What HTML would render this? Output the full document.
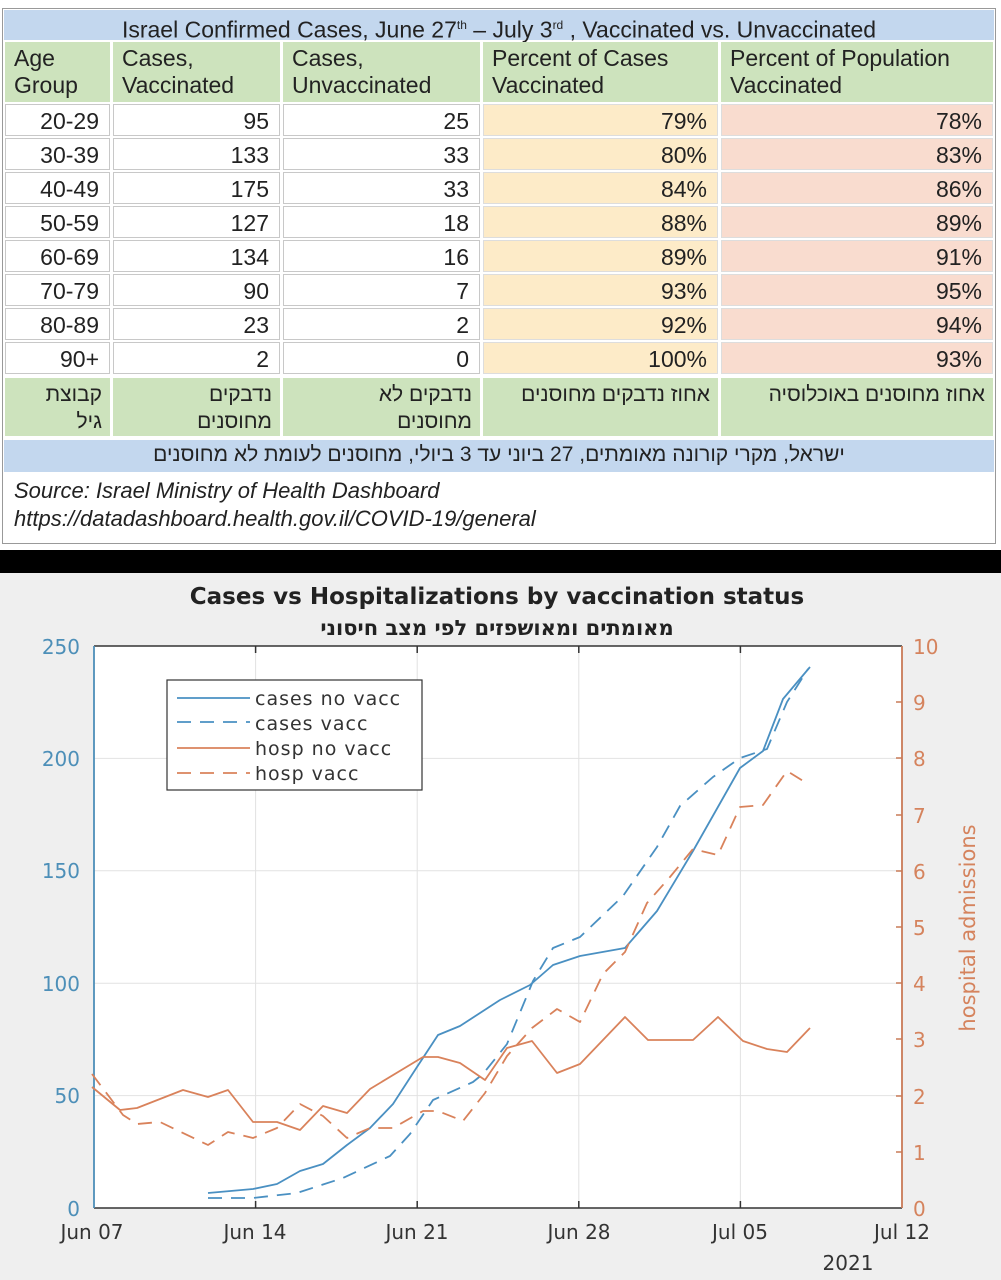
<!DOCTYPE html>
<html><head><meta charset="utf-8"><style>
body{margin:0;width:1001px;height:1280px;overflow:hidden;background:#fff;position:relative;font-family:"Liberation Sans Narrow","Liberation Sans",sans-serif;}
.c{position:absolute;box-sizing:border-box;font-size:23px;color:#222;line-height:27px;}
.w{background:#fff;border:1px solid #c8c8c8;}
.g{background:#cde3bd;}
.b{background:#c3d7ee;}
.y{background:#fdebc8;border:1px solid #ddd;}
.p{background:#f9dccf;border:1px solid #ddd;}
.r{text-align:right;padding-right:10px;padding-top:3px;}
.h{padding-left:9px;padding-top:3px;}
.he{direction:rtl;text-align:right;padding-right:8px;padding-top:3px;font-family:"Liberation Sans Narrow","Liberation Sans","Noto Sans CJK JP",sans-serif;font-size:21px;}
</style></head><body>
<div style="position:absolute;left:2px;top:8px;width:994px;height:536px;border:1px solid #999;box-sizing:border-box"></div>
<div class="c b" style="left:4px;top:10px;width:990px;height:30px;text-align:center;line-height:30px">Israel Confirmed Cases, June 27<sup style="font-size:12px">th</sup> – July 3<sup style="font-size:12px">rd</sup> , Vaccinated vs. Unvaccinated</div>
<div class="c g h" style="left:5px;top:42px;width:105px;height:60px">Age<br>Group</div>
<div class="c g h" style="left:113px;top:42px;width:167px;height:60px">Cases,<br>Vaccinated</div>
<div class="c g h" style="left:283px;top:42px;width:197px;height:60px">Cases,<br>Unvaccinated</div>
<div class="c g h" style="left:483px;top:42px;width:235px;height:60px">Percent of Cases<br>Vaccinated</div>
<div class="c g h" style="left:721px;top:42px;width:272px;height:60px">Percent of Population<br>Vaccinated</div>

<div id="rows"></div>
<script>
var d=[["20-29",95,25,"79%","78%"],["30-39",133,33,"80%","83%"],["40-49",175,33,"84%","86%"],["50-59",127,18,"88%","89%"],["60-69",134,16,"89%","91%"],["70-79",90,7,"93%","95%"],["80-89",23,2,"92%","94%"],["90+",2,0,"100%","93%"]];
var h="";
d.forEach(function(r,i){var t=104+i*34;
h+='<div class="c w r" style="left:5px;top:'+t+'px;width:105px;height:32px">'+r[0]+'</div>';
h+='<div class="c w r" style="left:113px;top:'+t+'px;width:167px;height:32px">'+r[1]+'</div>';
h+='<div class="c w r" style="left:283px;top:'+t+'px;width:197px;height:32px">'+r[2]+'</div>';
h+='<div class="c y r" style="left:483px;top:'+t+'px;width:235px;height:32px">'+r[3]+'</div>';
h+='<div class="c p r" style="left:721px;top:'+t+'px;width:272px;height:32px">'+r[4]+'</div>';});
document.getElementById("rows").innerHTML=h;
</script>
<div class="c g he" style="left:5px;top:378px;width:105px;height:58px">קבוצת<br>גיל</div>
<div class="c g he" style="left:113px;top:378px;width:167px;height:58px">נדבקים<br>מחוסנים</div>
<div class="c g he" style="left:283px;top:378px;width:197px;height:58px">נדבקים לא<br>מחוסנים</div>
<div class="c g he" style="left:483px;top:378px;width:235px;height:58px">אחוז נדבקים מחוסנים</div>
<div class="c g he" style="left:721px;top:378px;width:272px;height:58px">אחוז מחוסנים באוכלוסיה</div>
<div class="c b he" style="left:4px;top:440px;width:990px;height:32px;text-align:center;line-height:30px;padding:0">ישראל, מקרי קורונה מאומתים, 27 ביוני עד 3 ביולי, מחוסנים לעומת לא מחוסנים</div>
<div class="c" style="left:14px;top:477px;font-style:italic;font-size:22px;line-height:28px">Source: Israel Ministry of Health Dashboard<br>https://datadashboard.health.gov.il/COVID-19/general</div>
<div style="position:absolute;left:0;top:550px;width:1001px;height:23px;background:#000"></div>
<div style="position:absolute;left:0;top:573px;width:1001px;height:707px;background:#efefef"></div>

<svg width="1001" height="1280" style="position:absolute;left:0;top:0" font-family="'DejaVu Sans',sans-serif">
<text x="497" y="604" text-anchor="middle" font-size="23" font-weight="bold" fill="#222">Cases vs Hospitalizations by vaccination status</text>
<text x="497" y="635" text-anchor="middle" font-size="21" font-weight="bold" fill="#222" font-family="'DejaVu Sans','Noto Sans CJK JP',sans-serif">מאומתים ומאושפזים לפי מצב חיסוני</text>
<rect x="94" y="646" width="808" height="562" fill="#fff"/>
<g stroke="#e2e2e2" stroke-width="1">
<line x1="255.6" y1="646" x2="255.6" y2="1208"/><line x1="417.2" y1="646" x2="417.2" y2="1208"/><line x1="578.8" y1="646" x2="578.8" y2="1208"/><line x1="740.4" y1="646" x2="740.4" y2="1208"/>
<line x1="94" y1="758.4" x2="902" y2="758.4"/><line x1="94" y1="870.8" x2="902" y2="870.8"/><line x1="94" y1="983.2" x2="902" y2="983.2"/><line x1="94" y1="1095.6" x2="902" y2="1095.6"/>
</g>
<g stroke="#333" stroke-width="1.5">
<line x1="94" y1="646" x2="902" y2="646"/><line x1="94" y1="1208" x2="902" y2="1208"/>
<line x1="255.6" y1="1208" x2="255.6" y2="1201"/><line x1="417.2" y1="1208" x2="417.2" y2="1201"/><line x1="578.8" y1="1208" x2="578.8" y2="1201"/><line x1="740.4" y1="1208" x2="740.4" y2="1201"/>
<line x1="255.6" y1="646" x2="255.6" y2="653"/><line x1="417.2" y1="646" x2="417.2" y2="653"/><line x1="578.8" y1="646" x2="578.8" y2="653"/><line x1="740.4" y1="646" x2="740.4" y2="653"/>
</g>
<line x1="94" y1="646" x2="94" y2="1208" stroke="#4d8fb8" stroke-width="1.8"/>
<line x1="902" y1="646" x2="902" y2="1208" stroke="#c97a57" stroke-width="1.8"/>
<g stroke="#c97a57" stroke-width="1.5">
<line x1="896" y1="702" x2="902" y2="702"/><line x1="896" y1="758" x2="902" y2="758"/><line x1="896" y1="815" x2="902" y2="815"/><line x1="896" y1="871" x2="902" y2="871"/><line x1="896" y1="927" x2="902" y2="927"/><line x1="896" y1="983" x2="902" y2="983"/><line x1="896" y1="1039" x2="902" y2="1039"/><line x1="896" y1="1096" x2="902" y2="1096"/><line x1="896" y1="1152" x2="902" y2="1152"/>
</g>
<g font-size="20" fill="#4d8fb8" text-anchor="end">
<text x="80" y="654">250</text><text x="80" y="766">200</text><text x="80" y="878">150</text><text x="80" y="991">100</text><text x="80" y="1103">50</text><text x="80" y="1216">0</text>
</g>
<g font-size="20" fill="#d5835d">
<text x="913" y="654">10</text><text x="913" y="710">9</text><text x="913" y="766">8</text><text x="913" y="823">7</text><text x="913" y="879">6</text><text x="913" y="935">5</text><text x="913" y="991">4</text><text x="913" y="1047">3</text><text x="913" y="1104">2</text><text x="913" y="1160">1</text><text x="913" y="1216">0</text>
</g>
<text transform="translate(975,928) rotate(-90)" text-anchor="middle" font-size="21" fill="#d5835d">hospital admissions</text>
<g font-size="20" fill="#333" text-anchor="middle">
<text x="92" y="1239">Jun 07</text><text x="255" y="1239">Jun 14</text><text x="417" y="1239">Jun 21</text><text x="579" y="1239">Jun 28</text><text x="740" y="1239">Jul 05</text><text x="902" y="1239">Jul 12</text>
<text x="848" y="1270">2021</text>
</g>
<g fill="none" stroke-width="1.8" stroke-linejoin="round">
<polyline stroke="#4a90c2" points="208,1193 253,1189 277,1184 300,1171 323,1164 347,1145 370,1128 393,1104 417,1067 438,1035 460,1026 500,1000 530,985 553,965 580,956 625,948 657,911 693,851 740,768 763,751 783,699 810,667"/>
<polyline stroke="#4a90c2" stroke-dasharray="14,9" points="208,1198 253,1198 297,1193 343,1178 390,1156 410,1134 433,1100 473,1082 483,1074 507,1044 533,981 553,948 580,937 623,896 657,847 680,806 713,777 740,758 767,749 787,702 808,669"/>
<polyline stroke="#d9825b" points="92,1087 120,1110 137,1108 183,1090 208,1097 228,1090 253,1122 277,1122 300,1130 323,1106 347,1113 370,1089 423,1057 438,1057 460,1063 485,1080 507,1048 532,1041 557,1073 580,1064 625,1017 648,1040 693,1040 718,1017 743,1041 767,1049 787,1052 810,1028"/>
<polyline stroke="#d9825b" stroke-dasharray="14,9" points="92,1074 123,1115 137,1124 160,1122 208,1145 228,1132 253,1138 277,1128 300,1104 323,1116 347,1138 370,1128 393,1128 423,1111 438,1111 463,1121 485,1093 507,1056 532,1028 557,1009 580,1022 603,974 625,952 647,903 670,877 693,849 718,855 740,807 763,805 787,771 808,784"/>
</g>
<rect x="167" y="680" width="255" height="110" fill="#fff" stroke="#333" stroke-width="1.2"/>
<g stroke-width="1.8">
<line x1="177" y1="698" x2="250" y2="698" stroke="#4a90c2"/>
<line x1="177" y1="722" x2="250" y2="722" stroke="#4a90c2" stroke-dasharray="14,9"/>
<line x1="177" y1="748" x2="250" y2="748" stroke="#d9825b"/>
<line x1="177" y1="773" x2="250" y2="773" stroke="#d9825b" stroke-dasharray="14,9"/>
</g>
<g font-size="19" fill="#333" letter-spacing="1">
<text x="255" y="705">cases no vacc</text><text x="255" y="730">cases vacc</text><text x="255" y="755">hosp no vacc</text><text x="255" y="780">hosp vacc</text>
</g>
</svg>
</body></html>
